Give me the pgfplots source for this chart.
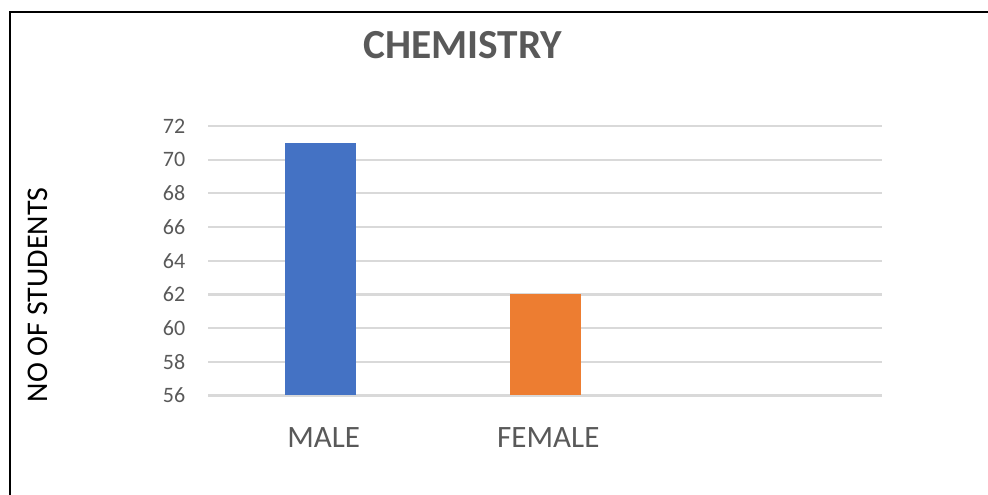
\documentclass[border=0pt]{standalone}
\usepackage{pgfplots}
\pgfplotsset{compat=1.18}
\usepackage{fontspec}
\setmainfont{Carlito}
\definecolor{cblue}{HTML}{4472C4}
\definecolor{corange}{HTML}{ED7D31}
\definecolor{cgrid}{HTML}{D9D9D9}
\definecolor{ctext}{HTML}{595959}
\begin{document}
\begin{tikzpicture}[x=0.75pt,y=0.75pt]
\path[use as bounding box] (0,0) rectangle (988,495);
\draw[black,line width=1.3pt] (10,0) -- (10,483) -- (988,483);
\begin{axis}[
  at={(208*0.75pt,99.5*0.75pt)}, anchor=south west,
  scale only axis,
  width=505.5pt, height=202.1pt,
  xmin=-0.5, xmax=2.5,
  ymin=56, ymax=72,
  ytick={56,58,...,72},
  xtick={0,1},
  xticklabels={MALE,FEMALE},
  ybar, bar width=53.25pt,
  axis line style={draw=none},
  major tick length=0pt,
  ymajorgrids,
  grid style={cgrid,line width=1.6pt},
  tick label style={text=ctext},
  yticklabel style={font=\fontsize{16.5}{18}\selectfont, xshift=-13.5pt},
  xticklabel style={font=\fontsize{23.3}{26}\selectfont, yshift=-20.5pt, xshift=2.5pt},
  /pgf/number format/assume math mode=true,
  title={CHEMISTRY},
  title style={at={(rel axis cs:0.378,1.27)}, anchor=center, font=\fontsize{31}{34}\selectfont\bfseries, text=ctext},
  ylabel={NO OF STUDENTS},
  ylabel style={at={(rel axis cs:-0.252,0.373)}, anchor=center, font=\fontsize{22.5}{25}\selectfont, text=black},
  clip=false,
]
\addplot[fill=cblue, draw=none, bar shift=0pt] coordinates {(0,71)};
\addplot[fill=corange, draw=none, bar shift=0pt] coordinates {(1,62)};
\end{axis}
\end{tikzpicture}
\end{document}
